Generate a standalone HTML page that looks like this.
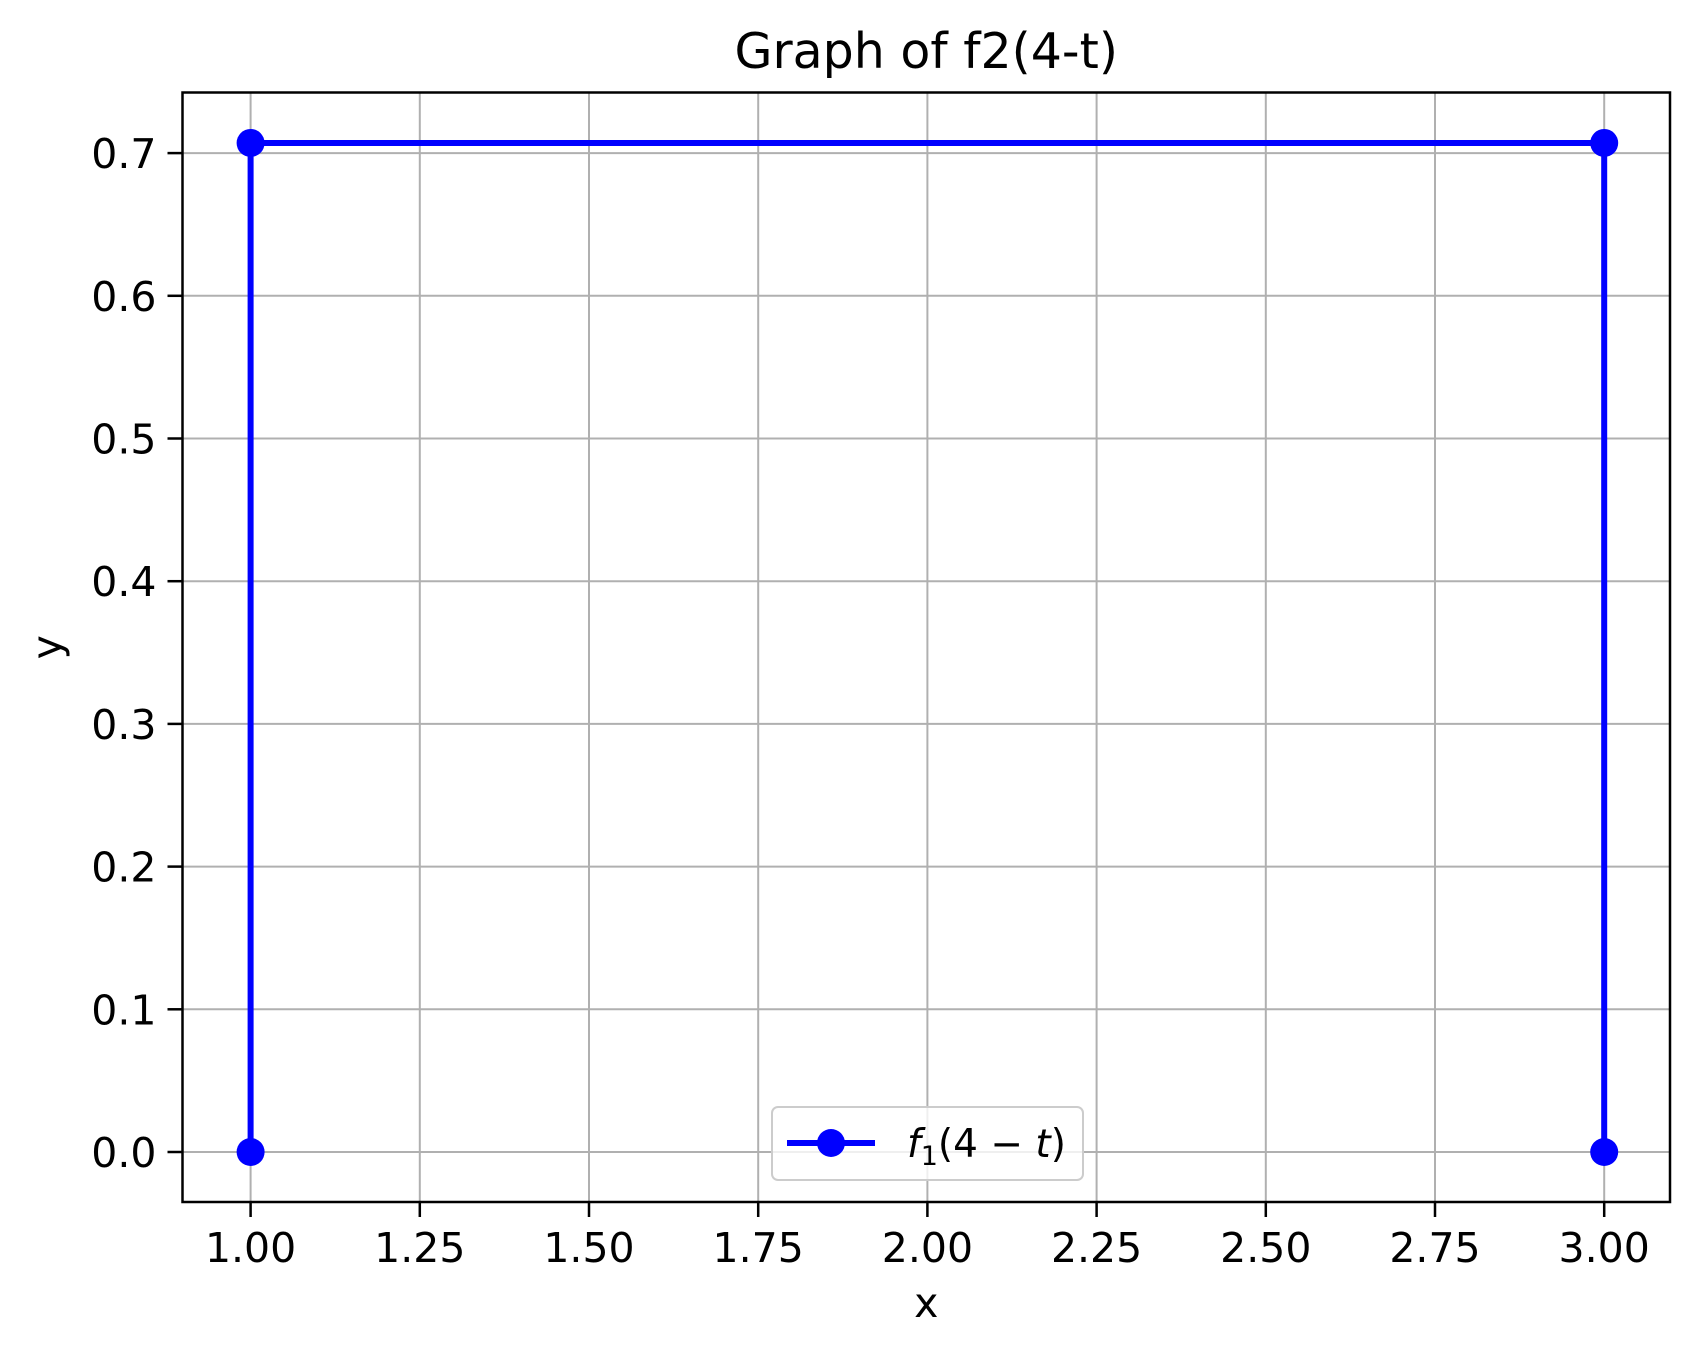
<!DOCTYPE html>
<html><head><meta charset="utf-8"><style>body{margin:0;background:#fff}svg{display:block;font-family:"DejaVu Sans","Liberation Sans",sans-serif}</style></head>
<body>
<svg id="chart" width="1700" height="1357"></svg>
<script>
const xVals=[1,1,3,3];
const yVals=[0,0.7071,0.7071,0];
const xTicks=[1.00,1.25,1.50,1.75,2.00,2.25,2.50,2.75,3.00];
const yTicks=[0.0,0.1,0.2,0.3,0.4,0.5,0.6,0.7];
const L=182.5,R=1670,T=92.5,B=1202;
const X=v=>250.6+(v-1)*676.8;
const Y=v=>1152-v*1427;
const svg=document.getElementById('chart');
const NS='http://www.w3.org/2000/svg';
function mk(tag,a,txt){const e=document.createElementNS(NS,tag);for(const k in a)e.setAttribute(k,a[k]);if(txt!==undefined)e.textContent=txt;svg.appendChild(e);return e;}
xTicks.forEach(t=>{
 const g=mk('line',{x1:X(t),x2:X(t),y1:T,y2:B,stroke:'#b0b0b0','stroke-width':2});
 
 
 const k=mk('line',{x1:X(t),x2:X(t),y1:B,y2:B+15,stroke:'#000','stroke-width':2.5});
 
 
 const l=mk('text',{x:X(t),y:B+60,'text-anchor':'middle','font-size':41},t.toFixed(2));
 
 
});
yTicks.forEach(t=>{
 const g=mk('line',{x1:L,x2:R,y1:Y(t),y2:Y(t),stroke:'#b0b0b0','stroke-width':2});
 
 
 const k=mk('line',{x1:L-15,x2:L,y1:Y(t),y2:Y(t),stroke:'#000','stroke-width':2.5});
 
 
 const l=mk('text',{x:L-26,y:Y(t)+15,'text-anchor':'end','font-size':41},t.toFixed(1));
 
 
});
const pts=xVals.map((v,i)=>X(v)+','+Y(yVals[i])).join(' ');
const pl=mk('polyline',{points:pts,fill:'none',stroke:'#0000ff','stroke-width':6});


xVals.forEach((v,i)=>{
 const c=mk('circle',{cx:X(v),cy:Y(yVals[i]),r:14,fill:'#0000ff'});
 
 
});
const fr=mk('rect',{x:L,y:T,width:R-L,height:B-T,fill:'none',stroke:'#000','stroke-width':2.5});


const ti=mk('text',{x:(L+R)/2,y:68,'text-anchor':'middle','font-size':49},'Graph of f2(4-t)');


const xl=mk('text',{x:(L+R)/2,y:1317,'text-anchor':'middle','font-size':41},'x');


const yl=mk('text',{x:0,y:0,'text-anchor':'middle','font-size':41,transform:'translate(61,'+((T+B)/2)+') rotate(-90)'},'y');


const lb=mk('rect',{x:772,y:1107,width:311,height:73,rx:6,fill:'#fff','fill-opacity':0.8,stroke:'#ccc','stroke-width':2});


const ll=mk('line',{x1:787,x2:875,y1:1143,y2:1143,stroke:'#0000ff','stroke-width':6});


const lm=mk('circle',{cx:831,cy:1143,r:14,fill:'#0000ff'});


const lt=mk('text',{x:907,y:1157,'font-size':39},'');


lt.innerHTML='<tspan font-style="italic">f</tspan><tspan font-size="27" dy="8">1</tspan><tspan dy="-8">(4 − </tspan><tspan font-style="italic">t</tspan><tspan>)</tspan>';
</script>
</body></html>
